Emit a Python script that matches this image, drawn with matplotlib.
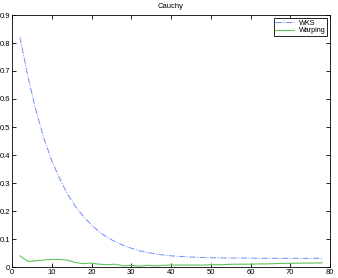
import numpy as np
import matplotlib.pyplot as plt

plt.rcParams['font.family'] = ['Liberation Sans', 'DejaVu Sans']

x = np.arange(2, 80, 2)
wks = [0.82, 0.68, 0.56, 0.46, 0.38, 0.315, 0.26, 0.215, 0.18, 0.15,
       0.125, 0.105, 0.09, 0.077, 0.067, 0.058, 0.052, 0.047, 0.043, 0.040,
       0.038, 0.036, 0.035, 0.034, 0.033, 0.033, 0.032, 0.032, 0.032, 0.032,
       0.031, 0.031, 0.031, 0.031, 0.031, 0.031, 0.031, 0.031, 0.031]
warping = [0.04, 0.02, 0.022, 0.025, 0.027, 0.027, 0.024, 0.016, 0.012, 0.014,
           0.01, 0.008, 0.01, 0.004, 0.006, 0.003, 0.006, 0.004, 0.006, 0.007,
           0.007, 0.007, 0.007, 0.007, 0.008, 0.008, 0.009, 0.01, 0.01, 0.01,
           0.011, 0.011, 0.012, 0.013, 0.013, 0.014, 0.014, 0.014, 0.015]

fig = plt.figure(figsize=(3.38, 2.78), dpi=100)
ax = fig.add_axes([12 / 338, 11 / 278, 318 / 338, 252 / 278])
ax.plot(x, wks, '-.', color='#6f8cff', linewidth=0.7, label='WKS')
ax.plot(x, warping, '-', color='#5cc45c', linewidth=0.8, label='Warping')
ax.set_xlim(0, 80)
ax.set_ylim(0, 0.9)
ax.set_xticks(np.arange(0, 81, 10))
ax.set_yticks(np.arange(0, 0.91, 0.1))
ax.set_yticklabels(['0', '0.1', '0.2', '0.3', '0.4', '0.5', '0.6', '0.7', '0.8', '0.9'])
ax.tick_params(direction='in', length=3, width=0.6, labelsize=5.5, pad=1.5,
               top=True, right=True)
for s in ax.spines.values():
    s.set_linewidth(0.6)
ax.set_title('Cauchy', fontsize=5.5, pad=5)
leg = ax.legend(loc='upper right', fontsize=5.2, fancybox=False, framealpha=1,
                edgecolor='black', borderpad=0.25, labelspacing=0.05,
                handlelength=2.6, handletextpad=0.6, borderaxespad=0.4)
leg.get_frame().set_linewidth(0.6)

plt.savefig('out.png', dpi=100)
